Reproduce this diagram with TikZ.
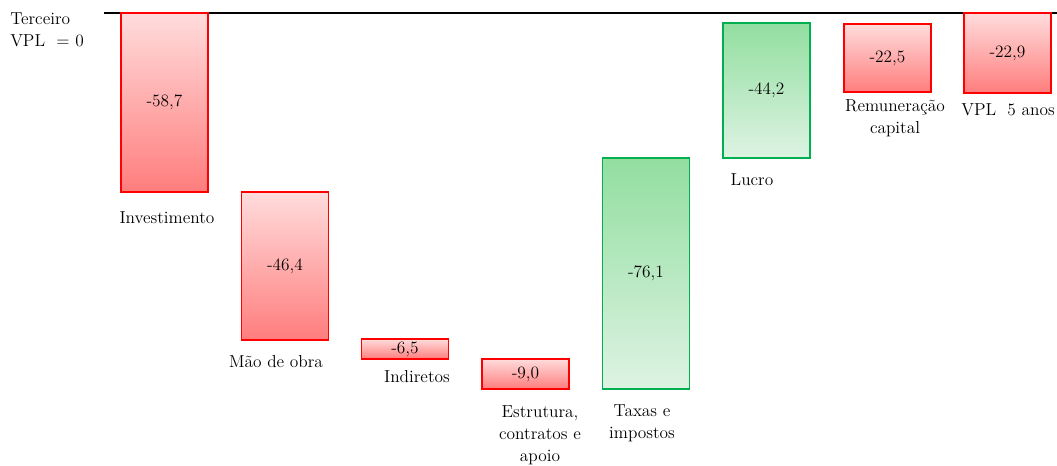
\documentclass[tikz,border=0pt]{standalone}
\usepackage{fontspec}
\usepackage{tikz}
\usetikzlibrary{positioning}

\definecolor{barred}{RGB}{255,0,0}
\definecolor{redtop}{RGB}{255,220,220}
\definecolor{redbot}{RGB}{255,125,125}
\definecolor{bargreen}{RGB}{0,176,80}
\definecolor{greentop}{RGB}{146,222,160}
\definecolor{greenbot}{RGB}{222,243,227}

\tikzset{
  bar/.style={rectangle,inner sep=0pt,line width=1.1pt,minimum width=65.25pt},
  redbar/.style={bar,draw=barred,top color=redtop,bottom color=redbot},
  greenbar/.style={bar,draw=bargreen,top color=greentop,bottom color=greenbot},
  lbl/.style={align=center,inner sep=0pt}
}

\begin{document}
\begin{tikzpicture}[x=0.75pt,y=-0.75pt,font=\fontsize{13}{16.5}\selectfont]
\useasboundingbox (0,0) rectangle (1057,466);
	% baseline
	\coordinate (l0) at (104,13);
	\coordinate (l1) at (1057,13);
	\draw[line width=0.8pt] (l0) -- (l1);
	\node[lbl,anchor=north west,align=left] (terc) at (10,12) {Terceiro\\VPL\ \ = 0};

	% bars
	\node[redbar,minimum height=134.25pt] (inv) at (164.5,102.5) {-58,7};
	\node[redbar,minimum height=111pt] (mao) at (285,266) {-46,4};
	\node[redbar,minimum height=15pt] (ind) at (405,349) {-6,5};
	\node[redbar,minimum height=22.5pt] (est) at (525.5,374) {-9,0};
	\node[greenbar,minimum height=173.25pt] (tax) at (646,273.5) {-76,1};
	\node[greenbar,minimum height=101.25pt] (luc) at (766.5,90.5) {-44,2};
	\node[redbar,minimum height=51pt] (rem) at (887.5,58) {-22,5};
	\node[redbar,minimum height=60pt] (vpl) at (1007.5,53) {-22,9};

	% labels
	\node[lbl] (invL) at (167,218) {Investimento};
	\node[lbl] (maoL) at (276,362) {Mão de obra};
	\node[lbl] (indL) at (417,377) {Indiretos};
	\node[lbl] (estL) at (540,435) {Estrutura,\\contratos e\\apoio};
	\node[lbl] (taxL) at (642,423) {Taxas e\\impostos};
	\node[lbl] (lucL) at (752,180) {Lucro};
	\node[lbl] (remL) at (895,118) {Remuneração\\capital};
	\node[lbl] (vplL) at (1008,110) {VPL\ \ 5 anos};
\end{tikzpicture}
\end{document}
